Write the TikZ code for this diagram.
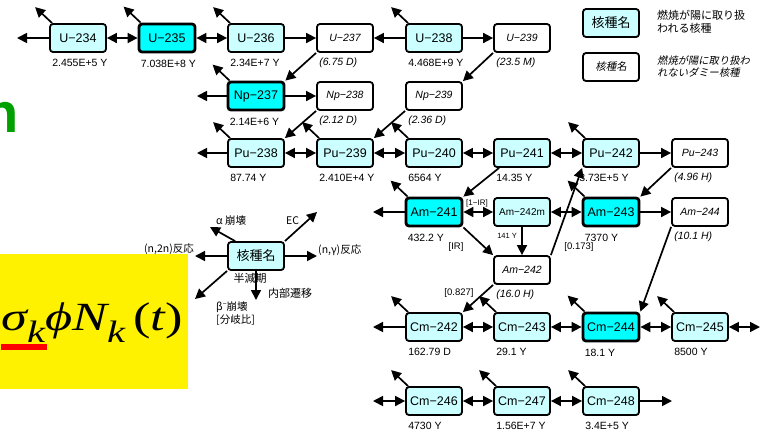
\documentclass[tikz,border=0pt]{standalone}
\usepackage{graphicx}
\usepackage{fontspec}
\setmainfont{Liberation Sans}
\newfontfamily\cjk{Noto Sans CJK JP}
\newfontfamily\cjkit[FakeSlant=0.2]{Noto Sans CJK JP}
\newfontfamily\tms{Liberation Serif}
\usetikzlibrary{arrows.meta,calc}
\definecolor{lcyan}{RGB}{204,255,255}
\definecolor{hcyan}{RGB}{0,255,255}
\definecolor{grn}{RGB}{0,160,0}
\tikzset{
  nbox/.style={draw, line width=1.8pt, rounded corners=3pt, minimum width=56pt, minimum height=28pt, inner sep=0pt},
  nuc/.style={nbox, fill=lcyan, font=\fontsize{12.5}{13}\selectfont},
  hot/.style={nbox, fill=hcyan, line width=2.8pt, font=\fontsize{12.5}{13}\selectfont},
  dum/.style={nbox, fill=white, font=\fontsize{10.5}{12}\selectfont\itshape},
  hlab/.style={anchor=base west, inner sep=0pt, font=\fontsize{10.5}{12}\selectfont},
  dlab/.style={anchor=base west, inner sep=0pt, font=\fontsize{10.5}{12}\selectfont\itshape},
  blab/.style={inner sep=0pt, font=\fontsize{9.5}{11}\selectfont},
  jlab/.style={inner sep=0pt, font=\cjk\fontsize{10.5}{12}\selectfont},
  arr/.style={line width=1.7pt, -{Triangle[length=10pt,width=10pt]}},
  darr/.style={line width=1.7pt, {Triangle[length=10pt,width=10pt]}-{Triangle[length=10pt,width=10pt]}},
}
\newcommand{\mn}{−}
\begin{document}
\begin{tikzpicture}[x=1pt,y=-1pt]
\useasboundingbox (0,0) rectangle (762,432);
\clip (0,0) rectangle (762,432);

% left decorations
\node[anchor=base east, inner sep=0pt, text=grn, font=\bfseries\fontsize{56}{56}\selectfont] (gn) at (19,132) {n};
\fill[yellow] (0,254) rectangle (188,389);
\node[anchor=base west, inner sep=0pt] (frm) at (1,330) {\scalebox{1.31}[1]{\tms\itshape\fontsize{40}{40}\selectfont σ\lower12pt\hbox{\fontsize{31}{31}\selectfont k}ϕN\lower12pt\hbox{\fontsize{31}{31}\selectfont k}\kern6pt{\upshape(}t{\upshape)}}};
\fill[red] (1,344) rectangle (47,350);

% row U
\node[nuc] (u234) at (78,38) {U\mn234};
\node[hot] (u235) at (167,38) {U\mn235};
\node[nuc] (u236) at (256,38) {U\mn236};
\node[dum] (u237) at (345,38) {U\mn237};
\node[nuc] (u238) at (434,38) {U\mn238};
\node[dum] (u239) at (522,38) {U\mn239};
% row Np
\node[hot] (np237) at (256,96) {Np\mn237};
\node[dum] (np238) at (345,96) {Np\mn238};
\node[dum] (np239) at (434,96) {Np\mn239};
% row Pu
\node[nuc] (pu238) at (256,153) {Pu\mn238};
\node[nuc] (pu239) at (345,153) {Pu\mn239};
\node[nuc] (pu240) at (434,153) {Pu\mn240};
\node[nuc] (pu241) at (522,153) {Pu\mn241};
\node[nuc] (pu242) at (611,153) {Pu\mn242};
\node[dum] (pu243) at (700,153) {Pu\mn243};
% row Am
\node[hot] (am241) at (434,212) {Am\mn241};
\node[nuc, font=\fontsize{10}{12}\selectfont] (am242m) at (522,212) {Am\mn242m};
\node[hot] (am243) at (611,212) {Am\mn243};
\node[dum] (am244) at (700,212) {Am\mn244};
\node[dum] (am242) at (522,270) {Am\mn242};
% row Cm
\node[nuc] (cm242) at (434,327) {Cm\mn242};
\node[nuc] (cm243) at (522,327) {Cm\mn243};
\node[hot] (cm244) at (611,327) {Cm\mn244};
\node[nuc] (cm245) at (700,327) {Cm\mn245};
\node[nuc] (cm246) at (434,401) {Cm\mn246};
\node[nuc] (cm247) at (522,401) {Cm\mn247};
\node[nuc] (cm248) at (611,401) {Cm\mn248};

% half lives
\node[hlab] (t1) at ($(u234.south west)+(3,14)$) {2.455E+5 Y};
\node[hlab] (t2) at ($(u235.south west)+(3,14)$) {7.038E+8 Y};
\node[hlab] (t3) at ($(u236.south west)+(3,14)$) {2.34E+7 Y};
\node[dlab] (t4) at ($(u237.south west)+(3,13)$) {(6.75 D)};
\node[hlab] (t5) at ($(u238.south west)+(3,14)$) {4.468E+9 Y};
\node[dlab] (t6) at ($(u239.south west)+(3,13)$) {(23.5 M)};
\node[hlab] (t7) at ($(np237.south west)+(3,14)$) {2.14E+6 Y};
\node[dlab] (t8) at ($(np238.south west)+(3,13)$) {(2.12 D)};
\node[dlab] (t9) at ($(np239.south west)+(3,13)$) {(2.36 D)};
\node[hlab] (t10) at ($(pu238.south west)+(3,14)$) {87.74 Y};
\node[hlab] (t11) at ($(pu239.south west)+(3,14)$) {2.410E+4 Y};
\node[hlab] (t12) at ($(pu240.south west)+(3,14)$) {6564 Y};
\node[hlab] (t13) at ($(pu241.south west)+(3,14)$) {14.35 Y};
\node[hlab] (t14) at ($(pu242.south west)+(-3,14)$) {3.73E+5 Y};
\node[dlab] (t15) at ($(pu243.south west)+(3,13)$) {(4.96 H)};
\node[hlab] (t16) at ($(am241.south west)+(3,14)$) {432.2 Y};
\node[anchor=base west, inner sep=0pt, font=\fontsize{7.5}{9}\selectfont] (t17) at ($(am242m.south west)+(4,12)$) {141 Y};
\node[hlab] (t18) at ($(am243.south west)+(3,14)$) {7370 Y};
\node[dlab] (t19) at ($(am244.south west)+(3,13)$) {(10.1 H)};
\node[dlab] (t20) at ($(am242.south west)+(3,13)$) {(16.0 H)};
\node[hlab] (t21) at ($(cm242.south west)+(3,14)$) {162.79 D};
\node[hlab] (t22) at ($(cm243.south west)+(3,14)$) {29.1 Y};
\node[hlab] (t23) at ($(cm244.south west)+(3,14)$) {18.1 Y};
\node[hlab] (t24) at ($(cm245.south west)+(3,14)$) {8500 Y};
\node[hlab] (t25) at ($(cm246.south west)+(3,14)$) {4730 Y};
\node[hlab] (t26) at ($(cm247.south west)+(3,14)$) {1.56E+7 Y};
\node[hlab] (t27) at ($(cm248.south west)+(3,14)$) {3.4E+5 Y};

% branching labels
\node[blab, font=\fontsize{8}{9}\selectfont] (b1) at (477,203) {[1\mn IR]};
\node[blab] (b2) at (456,247) {[IR]};
\node[blab] (b3) at (579,247) {[0.173]};
\node[blab] (b4) at (459,293) {[0.827]};

% horizontal connectors
\draw[arr] (u234.west) -- (17,38) coordinate (e1);
\draw[darr] (u234) -- (u235);
\draw[darr] (u235) -- (u236);
\draw[arr] (u236) -- (u237);
\draw[arr] (u238) -- (u237);
\draw[arr] (u238) -- (u239);
\draw[arr] (np237.west) -- (197,96) coordinate (e2);
\draw[arr] (np237) -- (np238);
\draw[arr] (pu238.west) -- (197,153) coordinate (e3);
\draw[darr] (pu238) -- (pu239);
\draw[darr] (pu239) -- (pu240);
\draw[darr] (pu240) -- (pu241);
\draw[darr] (pu241) -- (pu242);
\draw[arr] (pu242) -- (pu243);
\draw[arr] (am241.west) -- (373,212) coordinate (e4);
\draw[darr] (am241) -- (am242m);
\draw[darr] (am242m) -- (am243);
\draw[arr] (am243) -- (am244);
\draw[arr] (cm242.west) -- (373,327) coordinate (e5);
\draw[darr] (cm242) -- (cm243);
\draw[darr] (cm243) -- (cm244);
\draw[darr] (cm244) -- (cm245);
\draw[darr] (cm245.east) -- (760,327) coordinate (e6);
\draw[darr] (cm246.west) -- (373,401) coordinate (e7);
\draw[darr] (cm246) -- (cm247);
\draw[darr] (cm247) -- (cm248);
\draw[arr] (cm248.east) -- (672,401) coordinate (e8);

% diagonal / vertical connectors
\draw[arr] (u237.south west) -- (np237.north east);
\draw[arr] (u239.south west) -- (np239.north east);
\draw[arr] (np238.south west) -- (pu238.north east);
\draw[arr] (np239.south west) -- (pu239.north east);
\draw[arr] ($(pu241.south west)+(6,0)$) -- (am241.north east);
\draw[arr] (pu243.south west) -- (am243.north east);
\draw[arr] (am244.south west) -- (cm244.north east);
\draw[arr] (am241.south east) -- (am242.north west);
\draw[arr] (am242m.south) -- (am242.north);
\draw[arr] (am242.north east) -- (pu242.south west);
\draw[arr] (am242.south west) -- (cm242.north east);

% up-left arrows
\foreach \n in {u234,u235,u236,u238,np237,pu238,pu239,pu240,pu242,am241,am243,cm242,cm243,cm244,cm245,cm246,cm247,cm248}{
  \draw[arr] ($(\n.north west)+(3,0)$) -- ++(-17,-16);
}

% example node
\node[nuc, font=\cjk\fontsize{13}{14}\selectfont] (ex) at (256,256) {核種名};
\node[jlab, anchor=east] (l1) at (194,249) {(n,2n)反応};
\node[jlab, anchor=west] (l2) at (318,250) {(n,γ)反応};
\node[jlab, anchor=west] (l3) at (216,221) {α 崩壊};
\node[jlab, anchor=west] (l4) at (286,221) {EC};
\node[jlab, anchor=center, font=\cjk\fontsize{11}{12}\selectfont] (l5) at (250,278) {半減期};
\node[jlab, anchor=west, font=\cjk\fontsize{11}{12}\selectfont] (l6) at (268,293) {内部遷移};
\node[jlab, anchor=west] (l7) at (216,307) {β\raisebox{4pt}{\fontsize{7}{7}\selectfont\mn}崩壊};
\node[jlab, anchor=west] (l8) at (216,320) {[分岐比]};
\draw[arr] (ex.west) -- (195,256) coordinate (x1);
\draw[arr] (ex.east) -- (317,256) coordinate (x2);
\draw[arr] ($(ex.north west)+(8,0)$) -- (210,227) coordinate (x3);
\draw[arr] (ex.north east) -- (317,212) coordinate (x4);
\draw[arr] (ex.south west) -- (195,299) coordinate (x5);
\draw[arr] (ex.south) -- (256,300) coordinate (x6);

% legend
\node[nuc, font=\cjk\fontsize{13}{14}\selectfont] (lgA) at (611,23) {核種名};
\node[dum, font=\cjkit\fontsize{10.5}{12}\selectfont] (lgB) at (611,67) {核種名};
\node[anchor=north west, inner sep=0pt, align=left, font=\cjk\fontsize{11}{13}\selectfont] (lgAt) at (657,10) {燃焼が陽に取り扱\\われる核種};
\node[anchor=north west, inner sep=0pt, align=left, font=\cjkit\fontsize{10.3}{11.5}\selectfont] (lgBt) at (657,56) {燃焼が陽に取り扱わ\\れないダミー核種};
\end{tikzpicture}
\end{document}
